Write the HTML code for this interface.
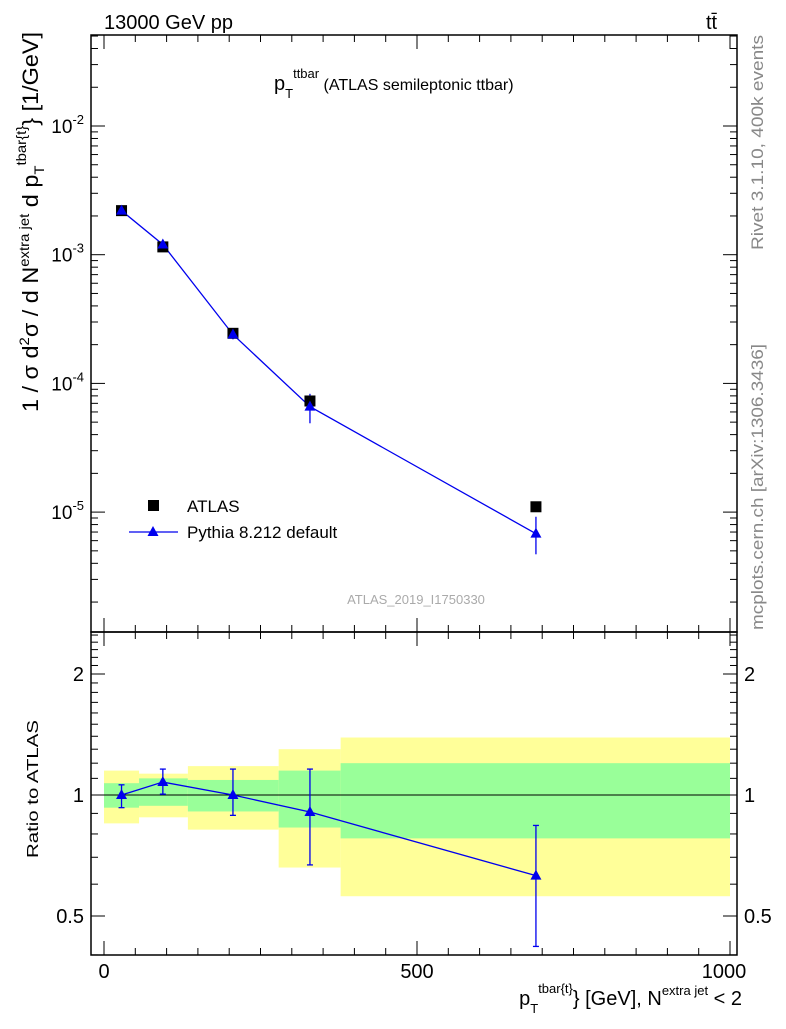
<!DOCTYPE html>
<html><head><meta charset="utf-8"><style>
body{margin:0;background:#fff;font-family:"Liberation Sans",sans-serif}
svg text{font-family:"Liberation Sans",sans-serif}
</style></head><body>
<svg id="c" width="786" height="1024" xmlns="http://www.w3.org/2000/svg">
<text x="104" y="29" font-size="20">13000 GeV pp</text>
<text x="706" y="29" font-size="20">tt̄</text>
<text x="274" y="90" font-size="20">p<tspan font-size="13" dy="8">T</tspan><tspan font-size="13" dy="-20">ttbar</tspan><tspan dy="12" font-size="16"> (ATLAS semileptonic ttbar)</tspan></text>
<text x="416" y="604" font-size="13" fill="#aaa" text-anchor="middle">ATLAS_2019_I1750330</text>
<text transform="translate(763,250) rotate(-90)" font-size="17" fill="#888" textLength="215" lengthAdjust="spacingAndGlyphs">Rivet 3.1.10,  400k events</text>
<text transform="translate(763,630) rotate(-90)" font-size="17" fill="#888" textLength="286" lengthAdjust="spacingAndGlyphs">mcplots.cern.ch [arXiv:1306.3436]</text>
<text transform="translate(38,412) rotate(-90)" font-size="22" textLength="380" lengthAdjust="spacingAndGlyphs">1 / σ d<tspan font-size="14" dy="-9">2</tspan><tspan dy="9">σ  /  d N</tspan><tspan font-size="14" dy="-9">extra jet</tspan><tspan dy="9"> d p</tspan><tspan font-size="14" dy="6">T</tspan><tspan font-size="14" dy="-18">tbar{t}</tspan><tspan dy="12">} [1/GeV]</tspan></text>
<text transform="translate(38,858) rotate(-90)" font-size="16" textLength="138" lengthAdjust="spacingAndGlyphs">Ratio to ATLAS</text>
<text x="742" y="1005" font-size="20" text-anchor="end">p<tspan font-size="13" dy="8">T</tspan><tspan font-size="13" dy="-20">tbar{t}</tspan><tspan dy="12">} [GeV], N</tspan><tspan font-size="13" dy="-10">extra jet</tspan><tspan dy="10"> &lt; 2</tspan></text>
<g id="g"></g>
</svg>
<script>
const xCenters=[28,94,206,329,690];
const dataVals=[2.2e-3,1.15e-3,2.45e-4,7.3e-5,1.1e-5];
const mcVals=[2.2e-3,1.2e-3,2.4e-4,6.6e-5,6.8e-6];
const mcLow=[2.05e-3,1.12e-3,2.2e-4,4.9e-5,4.7e-6];
const mcHigh=[2.35e-3,1.28e-3,2.6e-4,8.3e-5,9.2e-6];
const ratioVals=[1.0,1.077,1.0,0.907,0.63];
const ratioLow=[0.93,1.005,0.89,0.67,0.42];
const ratioHigh=[1.06,1.16,1.16,1.16,0.84];
const binEdges=[0,56,134,279,378,1000];
const greenLo=[0.93,0.94,0.91,0.83,0.78];
const greenHi=[1.07,1.10,1.09,1.15,1.20];
const yellowLo=[0.85,0.88,0.82,0.66,0.56];
const yellowHi=[1.15,1.13,1.18,1.30,1.39];
const xTicks=[0,500,1000];
const yDecades=[-5,-4,-3,-2];
const rTicks=[0.5,1,2];
const L=91,R=737,T=35,B=632,RT=632,RB=955;
const X=v=>104+v*0.626;
const Y=v=>126-(Math.log10(v)+2)*128.7;
const RY=v=>795-Math.log2(v)*121;
const g=document.getElementById('g');const NS='http://www.w3.org/2000/svg';
function mk(t,a,p){const e=document.createElementNS(NS,t);for(const k in a)e.setAttribute(k,a[k]);(p||g).appendChild(e);return e;}
for(let i=0;i<5;i++){
 let r=mk('rect',{x:X(binEdges[i]),y:RY(yellowHi[i]),width:X(binEdges[i+1])-X(binEdges[i]),height:RY(yellowLo[i])-RY(yellowHi[i]),fill:'#ffff99'});
 
 let q=mk('rect',{x:X(binEdges[i]),y:RY(greenHi[i]),width:X(binEdges[i+1])-X(binEdges[i]),height:RY(greenLo[i])-RY(greenHi[i]),fill:'#99ff99'});
 
}
mk('line',{x1:L,x2:R,y1:RY(1),y2:RY(1),stroke:'#000'});
for(const [t,b] of [[T,B],[RT,RB]]) mk('rect',{x:L,y:t,width:R-L,height:b-t,fill:'none',stroke:'#000','stroke-width':1.5});
for(const [t,b] of [[T,B],[RT,RB]]){
 for(let v=0;v<=1050;v+=50){if(X(v)>R)break;const len=v%500==0?14:7;
  mk('line',{x1:X(v),x2:X(v),y1:b,y2:b-len,stroke:'#000'});mk('line',{x1:X(v),x2:X(v),y1:t,y2:t+len,stroke:'#000'});}
}
xTicks.forEach(v=>{const e=mk('text',{x:X(v)-(v==1000?6:0),y:978,'font-size':20,'text-anchor':'middle'});e.textContent=v;
});
for(let d=-6;d<=-1;d++)for(let m=1;m<10;m++){const v=m*Math.pow(10,d);const y=Y(v);if(y<T||y>B)continue;const len=m==1?14:7;
 mk('line',{x1:L,x2:L+len,y1:y,y2:y,stroke:'#000'});mk('line',{x1:R,x2:R-len,y1:y,y2:y,stroke:'#000'});}
yDecades.forEach(d=>{const e=mk('text',{x:84,y:Y(Math.pow(10,d))+7,'font-size':19,'text-anchor':'end'});
e.innerHTML='10<tspan font-size="13" dy="-9">'+d+'</tspan>';});
for(let v=0.4;v<=2.5;v=+(v+0.1).toFixed(1)){const y=RY(v);if(y<RT||y>RB)continue;const len=(v==0.5||v==1||v==2)?14:7;
 mk('line',{x1:L,x2:L+len,y1:y,y2:y,stroke:'#000'});mk('line',{x1:R,x2:R-len,y1:y,y2:y,stroke:'#000'});}
rTicks.forEach(v=>{for(const [x,a] of [[84,'end'],[744,'start']]){const e=mk('text',{x:x,y:RY(v)+7,'font-size':20,'text-anchor':a});e.textContent=v;
}});
let p=mk('polyline',{points:xCenters.map((x,i)=>X(x)+','+Y(mcVals[i])).join(' '),fill:'none',stroke:'#0000ee','stroke-width':1.3});

xCenters.forEach((x,i)=>{
 mk('line',{x1:X(x),x2:X(x),y1:Y(mcLow[i]),y2:Y(mcHigh[i]),stroke:'#0000ee','stroke-width':1.3});
 let s=mk('rect',{x:X(x)-5.5,y:Y(dataVals[i])-5.5,width:11,height:11,fill:'#000'});
 
 let t=mk('polygon',{points:`${X(x)},${Y(mcVals[i])-6} ${X(x)-5.5},${Y(mcVals[i])+4} ${X(x)+5.5},${Y(mcVals[i])+4}`,fill:'#0000ee'});
 
});
let rp=mk('polyline',{points:xCenters.map((x,i)=>X(x)+','+RY(ratioVals[i])).join(' '),fill:'none',stroke:'#0000ee','stroke-width':1.3});

xCenters.forEach((x,i)=>{
 mk('line',{x1:X(x),x2:X(x),y1:RY(ratioLow[i]),y2:RY(ratioHigh[i]),stroke:'#0000ee','stroke-width':1.3});
 for(const v of [ratioLow[i],ratioHigh[i]])mk('line',{x1:X(x)-3,x2:X(x)+3,y1:RY(v),y2:RY(v),stroke:'#0000ee','stroke-width':1.3});
 let t=mk('polygon',{points:`${X(x)},${RY(ratioVals[i])-6} ${X(x)-5.5},${RY(ratioVals[i])+4} ${X(x)+5.5},${RY(ratioVals[i])+4}`,fill:'#0000ee'});
 
});
let l1=mk('rect',{x:148,y:500,width:11,height:11,fill:'#000'});
let lt1=mk('text',{x:187,y:512,'font-size':17});lt1.textContent='ATLAS';
mk('line',{x1:129,x2:178,y1:532,y2:532,stroke:'#0000ee','stroke-width':1.3});
mk('polygon',{points:'153,526 147.5,536 158.5,536',fill:'#0000ee'});
let lt2=mk('text',{x:187,y:538,'font-size':17});lt2.textContent='Pythia 8.212 default';
</script>
</body></html>
